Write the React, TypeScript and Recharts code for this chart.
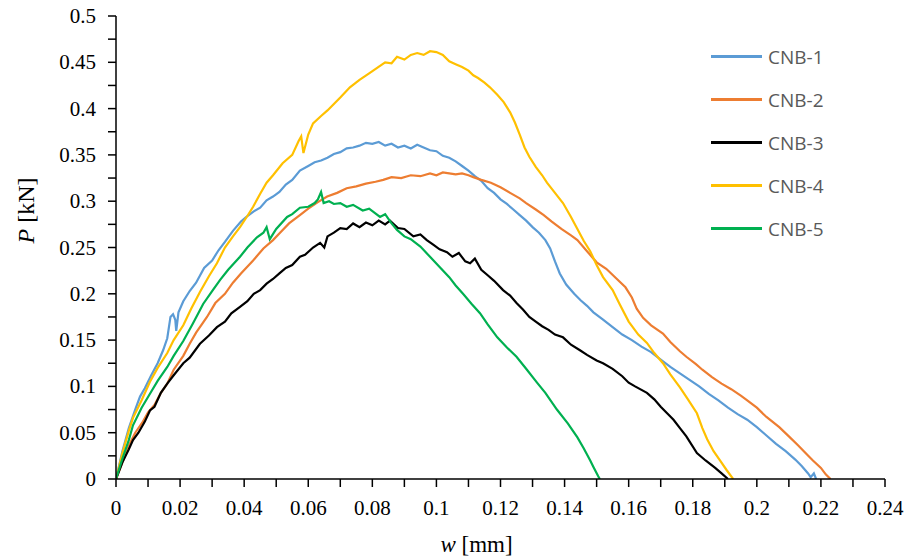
import { LineChart, Line, XAxis, YAxis, Legend } from 'recharts';

// axis ticks (minor ticks every other one carry no label)
const xTicks = [0, 0.01, 0.02, 0.03, 0.04, 0.05, 0.06, 0.07, 0.08, 0.09, 0.1, 0.11, 0.12, 0.13, 0.14, 0.15, 0.16, 0.17, 0.18, 0.19, 0.2, 0.21, 0.22, 0.23, 0.24];
const yTicks = [0, 0.025, 0.05, 0.075, 0.1, 0.125, 0.15, 0.175, 0.2, 0.225, 0.25, 0.275, 0.3, 0.325, 0.35, 0.375, 0.4, 0.425, 0.45, 0.475, 0.5];

const seriesNames = ['CNB-1', 'CNB-2', 'CNB-3', 'CNB-4', 'CNB-5'];
const seriesColors = ['#5B9BD5', '#ED7D31', '#000000', '#FFC000', '#00B050'];

// [w (mm), P (kN)]
const cnb1: [number, number][] = [
  [0, 0], [0.002, 0.03], [0.004, 0.055], [0.006, 0.075], [0.0075, 0.089], [0.009, 0.098], [0.011, 0.112],
  [0.013, 0.125], [0.0147, 0.139], [0.016, 0.152], [0.017, 0.175], [0.0178, 0.178], [0.0185, 0.172],
  [0.0188, 0.16], [0.0195, 0.18], [0.021, 0.192], [0.023, 0.203], [0.025, 0.212], [0.0275, 0.228],
  [0.03, 0.236], [0.032, 0.247], [0.034, 0.256], [0.0365, 0.268], [0.039, 0.278], [0.041, 0.284],
  [0.043, 0.289], [0.045, 0.293], [0.047, 0.301], [0.049, 0.305], [0.051, 0.31], [0.053, 0.318],
  [0.055, 0.323], [0.0574, 0.333], [0.06, 0.338], [0.062, 0.342], [0.064, 0.344], [0.066, 0.347],
  [0.068, 0.351], [0.07, 0.353], [0.072, 0.357], [0.074, 0.358], [0.076, 0.36], [0.078, 0.363],
  [0.08, 0.362], [0.082, 0.364], [0.084, 0.36], [0.086, 0.362], [0.088, 0.358], [0.09, 0.36],
  [0.092, 0.357], [0.094, 0.361], [0.096, 0.358], [0.098, 0.355], [0.1, 0.354], [0.102, 0.349],
  [0.104, 0.347], [0.106, 0.343], [0.108, 0.338], [0.11, 0.333], [0.112, 0.327], [0.114, 0.322],
  [0.116, 0.314], [0.118, 0.309], [0.12, 0.302], [0.122, 0.297], [0.124, 0.291], [0.126, 0.285],
  [0.128, 0.279], [0.13, 0.272], [0.132, 0.266], [0.134, 0.258], [0.1355, 0.249], [0.137, 0.235],
  [0.1385, 0.222], [0.1405, 0.21], [0.143, 0.2], [0.145, 0.193], [0.147, 0.187], [0.149, 0.18],
  [0.152, 0.172], [0.155, 0.164], [0.158, 0.156], [0.161, 0.15], [0.164, 0.143], [0.167, 0.137],
  [0.17, 0.129], [0.173, 0.121], [0.176, 0.114], [0.179, 0.107], [0.182, 0.1], [0.185, 0.092],
  [0.188, 0.085], [0.191, 0.077], [0.194, 0.07], [0.197, 0.064], [0.2, 0.056], [0.203, 0.047],
  [0.206, 0.038], [0.209, 0.03], [0.212, 0.021], [0.214, 0.014], [0.216, 0.006], [0.2168, 0.002],
  [0.2178, 0.006], [0.2185, 0],
];

const cnb2: [number, number][] = [
  [0, 0], [0.002, 0.018], [0.004, 0.036], [0.006, 0.05], [0.0084, 0.062], [0.01, 0.072], [0.012, 0.08],
  [0.014, 0.093], [0.016, 0.103], [0.018, 0.118], [0.021, 0.133], [0.023, 0.146], [0.025, 0.158],
  [0.0284, 0.175], [0.031, 0.19], [0.034, 0.2], [0.0365, 0.212], [0.039, 0.222], [0.0428, 0.236],
  [0.046, 0.249], [0.049, 0.258], [0.0512, 0.266], [0.054, 0.276], [0.0574, 0.285], [0.06, 0.292],
  [0.063, 0.299], [0.0659, 0.305], [0.069, 0.309], [0.072, 0.314], [0.075, 0.316], [0.078, 0.319],
  [0.081, 0.321], [0.0834, 0.323], [0.086, 0.326], [0.089, 0.325], [0.092, 0.328], [0.095, 0.327],
  [0.098, 0.33], [0.1, 0.328], [0.102, 0.331], [0.104, 0.33], [0.106, 0.329], [0.108, 0.33],
  [0.11, 0.328], [0.1115, 0.326], [0.114, 0.323], [0.117, 0.32], [0.12, 0.315], [0.123, 0.309],
  [0.126, 0.303], [0.128, 0.298], [0.131, 0.291], [0.1335, 0.285], [0.136, 0.278], [0.139, 0.27],
  [0.142, 0.263], [0.144, 0.258], [0.147, 0.246], [0.15, 0.234], [0.153, 0.227], [0.156, 0.217],
  [0.159, 0.207], [0.161, 0.196], [0.1625, 0.184], [0.1645, 0.174], [0.167, 0.166], [0.1707, 0.157],
  [0.173, 0.148], [0.176, 0.138], [0.178, 0.132], [0.181, 0.124], [0.183, 0.118], [0.186, 0.11],
  [0.189, 0.103], [0.192, 0.097], [0.195, 0.09], [0.197, 0.085], [0.2, 0.077], [0.203, 0.067],
  [0.207, 0.056], [0.21, 0.046], [0.213, 0.036], [0.2155, 0.027], [0.2175, 0.02], [0.22, 0.012],
  [0.2215, 0.005], [0.223, 0],
];

const cnb3: [number, number][] = [
  [0, 0], [0.002, 0.018], [0.004, 0.032], [0.0053, 0.042], [0.007, 0.05], [0.009, 0.062], [0.0106, 0.074],
  [0.012, 0.078], [0.014, 0.093], [0.016, 0.103], [0.018, 0.112], [0.021, 0.125], [0.023, 0.131],
  [0.0262, 0.146], [0.029, 0.155], [0.0315, 0.164], [0.034, 0.17], [0.036, 0.179], [0.0387, 0.186],
  [0.041, 0.192], [0.043, 0.2], [0.045, 0.204], [0.047, 0.211], [0.049, 0.216], [0.051, 0.222],
  [0.053, 0.228], [0.055, 0.231], [0.0574, 0.24], [0.059, 0.242], [0.0615, 0.25], [0.0637, 0.255],
  [0.065, 0.25], [0.066, 0.262], [0.068, 0.266], [0.07, 0.271], [0.072, 0.27], [0.074, 0.276],
  [0.076, 0.272], [0.078, 0.277], [0.08, 0.274], [0.082, 0.279], [0.084, 0.275], [0.0855, 0.279],
  [0.088, 0.271], [0.09, 0.27], [0.0928, 0.262], [0.095, 0.264], [0.097, 0.258], [0.099, 0.253],
  [0.101, 0.248], [0.1033, 0.245], [0.105, 0.24], [0.107, 0.244], [0.109, 0.235], [0.1105, 0.233],
  [0.112, 0.238], [0.114, 0.226], [0.116, 0.22], [0.118, 0.214], [0.1208, 0.204], [0.123, 0.198],
  [0.125, 0.19], [0.127, 0.183], [0.129, 0.175], [0.131, 0.17], [0.133, 0.165], [0.135, 0.161],
  [0.137, 0.156], [0.1395, 0.153], [0.142, 0.145], [0.1448, 0.139], [0.147, 0.134], [0.15, 0.128],
  [0.152, 0.125], [0.155, 0.119], [0.158, 0.111], [0.16, 0.104], [0.162, 0.1], [0.1657, 0.093],
  [0.168, 0.086], [0.17, 0.078], [0.172, 0.071], [0.174, 0.064], [0.176, 0.055], [0.178, 0.046],
  [0.1813, 0.028], [0.184, 0.02], [0.187, 0.012], [0.189, 0.006], [0.191, 0],
];

const cnb4: [number, number][] = [
  [0, 0], [0.002, 0.028], [0.004, 0.052], [0.0053, 0.066], [0.008, 0.085], [0.0106, 0.105], [0.013, 0.12],
  [0.016, 0.136], [0.018, 0.15], [0.021, 0.166], [0.0235, 0.184], [0.0262, 0.202], [0.029, 0.219],
  [0.0315, 0.233], [0.034, 0.25], [0.0365, 0.262], [0.0387, 0.272], [0.041, 0.284], [0.0428, 0.294],
  [0.045, 0.308], [0.047, 0.32], [0.049, 0.328], [0.052, 0.341], [0.055, 0.35], [0.057, 0.365],
  [0.0578, 0.37], [0.0585, 0.352], [0.06, 0.372], [0.0615, 0.384], [0.064, 0.392], [0.066, 0.398],
  [0.068, 0.405], [0.07, 0.412], [0.073, 0.423], [0.076, 0.431], [0.079, 0.438], [0.0815, 0.444],
  [0.084, 0.45], [0.086, 0.449], [0.0877, 0.456], [0.09, 0.453], [0.092, 0.458], [0.094, 0.46],
  [0.096, 0.458], [0.098, 0.462], [0.1, 0.461], [0.102, 0.458], [0.104, 0.451], [0.106, 0.448],
  [0.108, 0.445], [0.11, 0.441], [0.1115, 0.436], [0.113, 0.433], [0.115, 0.428], [0.1167, 0.423],
  [0.119, 0.415], [0.121, 0.407], [0.123, 0.396], [0.1245, 0.385], [0.126, 0.372], [0.1275, 0.358],
  [0.129, 0.348], [0.131, 0.337], [0.133, 0.328], [0.1345, 0.32], [0.137, 0.309], [0.1395, 0.298],
  [0.142, 0.283], [0.144, 0.27], [0.146, 0.257], [0.148, 0.246], [0.15, 0.231], [0.152, 0.218],
  [0.155, 0.204], [0.157, 0.19], [0.16, 0.17], [0.163, 0.156], [0.1657, 0.147], [0.168, 0.136],
  [0.1707, 0.125], [0.173, 0.113], [0.176, 0.099], [0.1785, 0.086], [0.1813, 0.071], [0.183, 0.055],
  [0.1845, 0.043], [0.1865, 0.03], [0.1885, 0.02], [0.1905, 0.01], [0.1926, 0],
];

const cnb5: [number, number][] = [
  [0, 0], [0.002, 0.022], [0.004, 0.042], [0.0053, 0.058], [0.008, 0.077], [0.0106, 0.092], [0.013, 0.106],
  [0.016, 0.121], [0.018, 0.133], [0.021, 0.149], [0.024, 0.168], [0.0272, 0.189], [0.03, 0.203],
  [0.0325, 0.215], [0.035, 0.226], [0.0387, 0.24], [0.041, 0.25], [0.044, 0.261], [0.046, 0.266],
  [0.047, 0.272], [0.048, 0.259], [0.05, 0.27], [0.0534, 0.283], [0.055, 0.286], [0.0574, 0.293],
  [0.06, 0.294], [0.062, 0.298], [0.063, 0.302], [0.064, 0.31], [0.0648, 0.298], [0.0665, 0.3],
  [0.068, 0.297], [0.07, 0.298], [0.072, 0.294], [0.074, 0.296], [0.077, 0.29], [0.079, 0.292],
  [0.0824, 0.283], [0.084, 0.286], [0.086, 0.276], [0.0877, 0.269], [0.09, 0.262], [0.092, 0.259],
  [0.095, 0.251], [0.098, 0.24], [0.101, 0.229], [0.104, 0.218], [0.106, 0.209], [0.1083, 0.2],
  [0.111, 0.189], [0.1136, 0.179], [0.116, 0.167], [0.119, 0.153], [0.122, 0.142], [0.125, 0.132],
  [0.128, 0.119], [0.1314, 0.104], [0.134, 0.093], [0.1376, 0.075], [0.141, 0.06], [0.144, 0.045],
  [0.146, 0.033], [0.148, 0.02], [0.149, 0.013], [0.1505, 0.003], [0.151, 0],
];

const seriesData = [cnb1, cnb2, cnb3, cnb4, cnb5].map((arr) => arr.map(([w, p]) => ({ w, p })));

const fmt = (v: number) => String(Number(v.toFixed(3)));
const serifStyle = { fontFamily: "'Liberation Serif', 'Times New Roman', serif" };

const XTick = (props: any) => {
  const { x, y, payload } = props;
  const v = payload.value;
  if (Math.round(v * 100) % 2 !== 0) return <g />;
  return (
    <text x={x} y={y} dy={28} textAnchor="middle" style={serifStyle} fontSize={21} fill="#000">
      {fmt(v)}
    </text>
  );
};

const YTick = (props: any) => {
  const { x, y, payload } = props;
  const v = payload.value;
  if (Math.round(v * 1000) % 50 !== 0) return <g />;
  return (
    <text x={x - 12} y={y} dy={7} textAnchor="end" style={serifStyle} fontSize={21} fill="#000">
      {fmt(v)}
    </text>
  );
};

const XLabel = (props: any) => {
  const { viewBox } = props;
  const cx = viewBox.x + viewBox.width / 2 - 24;
  return (
    <text x={cx} y={viewBox.y + 73} textAnchor="middle" style={serifStyle} fontSize={23} fill="#000">
      <tspan fontStyle="italic">w</tspan> [mm]
    </text>
  );
};

const YLabel = (props: any) => {
  const { viewBox } = props;
  const x = viewBox.x + 34;
  const y = viewBox.y + viewBox.height / 2 - 37;
  return (
    <text x={x} y={y} transform={`rotate(-90, ${x}, ${y})`} textAnchor="middle" style={serifStyle} fontSize={24} fill="#000">
      <tspan fontStyle="italic">P</tspan> [kN]
    </text>
  );
};

const renderLegend = () => (
  <div style={{ fontFamily: "'Open Sans', sans-serif", fontSize: 19, color: '#595959' }}>
    {seriesNames.map((name, i) => (
      <div key={name} style={{ display: 'flex', alignItems: 'center', height: 43 }}>
        <span style={{ display: 'inline-block', width: 51, height: 2.5, background: seriesColors[i], marginRight: 6 }} />
        <span>{name}</span>
      </div>
    ))}
  </div>
);

export default function App() {
  return (
    <div style={{ position: 'absolute', left: 0, top: 0, width: 918, height: 558, background: '#fff' }}>
      <LineChart width={918} height={558} margin={{ top: 16, right: 33, bottom: 0, left: 0 }}>
        <XAxis
          type="number"
          dataKey="w"
          domain={[0, 0.24]}
          ticks={xTicks}
          interval={0}
          height={79}
          tickSize={8}
          tickMargin={0}
          tick={<XTick />}
          axisLine={{ stroke: '#000', strokeWidth: 1.5 }}
          tickLine={{ stroke: '#000', strokeWidth: 1.5 }}
          allowDataOverflow
          label={<XLabel />}
        />
        <YAxis
          type="number"
          dataKey="p"
          domain={[0, 0.5]}
          ticks={yTicks}
          interval={0}
          width={116}
          tickSize={8}
          tickMargin={0}
          tick={<YTick />}
          axisLine={{ stroke: '#000', strokeWidth: 1.5 }}
          tickLine={{ stroke: '#000', strokeWidth: 1.5 }}
          allowDataOverflow
          label={<YLabel />}
        />
        <Legend
          layout="vertical"
          align="center"
          verticalAlign="middle"
          content={renderLegend}
          wrapperStyle={{ top: 35, left: 711, width: 150 }}
        />
        {seriesData.map((d, i) => (
          <Line
            key={seriesNames[i]}
            data={d}
            dataKey="p"
            name={seriesNames[i]}
            type="linear"
            stroke={seriesColors[i]}
            strokeWidth={2.2}
            dot={false}
            activeDot={false}
            isAnimationActive={false}
          />
        ))}
      </LineChart>
    </div>
  );
}
